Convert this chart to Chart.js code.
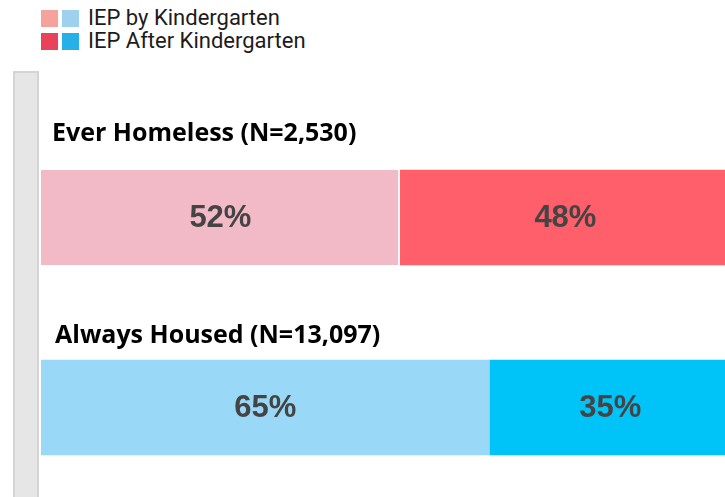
<!DOCTYPE html>
<html>
<head>
<meta charset="utf-8">
<script src="https://cdn.jsdelivr.net/npm/chart.js@4/dist/chart.umd.min.js"></script>
<style>
  html, body { margin: 0; padding: 0; background: #fff; overflow: hidden; width: 725px; height: 497px; }
  #wrap { position: relative; width: 735px; height: 510px; }
  #rail { position: absolute; left: 13px; top: 71px; width: 22px; height: 440px; background: #e6e6e6; border: 2px solid #d4d4d4; box-sizing: content-box; }
  .legend { position: absolute; left: 41px; height: 18px; font-family: Roboto, "Liberation Sans", sans-serif; font-size: 22px; color: #1c1c1c; display: flex; align-items: center; }
  .legend .sw { width: 17px; height: 17px; display: inline-block; margin-right: 4px; }
  .legend .txt { margin-left: 5px; line-height: 18px; }
  #chart { position: absolute; left: 0; top: 0; }
</style>
</head>
<body>
<div id="wrap">
  <div id="rail"></div>
  <div class="legend" style="top:9px"><span class="sw" style="background:#f5a29d"></span><span class="sw" style="background:#9ed0ef"></span><span class="txt">IEP by Kindergarten</span></div>
  <div class="legend" style="top:32px"><span class="sw" style="background:#e9435b"></span><span class="sw" style="background:#27b0e8"></span><span class="txt">IEP After Kindergarten</span></div>
  <canvas id="chart" width="735" height="510"></canvas>
</div>
<script>
// Groups and their share of IEP timing (percent)
const categories = ['Ever Homeless (N=2,530)', 'Always Housed (N=13,097)'];
const iepByK = [52, 65];
const iepAfterK = [48, 35];

const byKColors = ['#f2b9c6', '#99d8f6'];
const afterKColors = ['#ff5f6b', '#00c4f7'];

// Group titles sit above each bar
const titleGap = [29, 17];
const titleX = [52, 55];

const groupTitles = {
  id: 'groupTitles',
  afterDatasetsDraw(chart) {
    const { ctx } = chart;
    const meta = chart.getDatasetMeta(0);
    ctx.save();
    ctx.font = 'bold 25px "Open Sans", "Liberation Sans", sans-serif';
    ctx.fillStyle = '#000';
    ctx.textBaseline = 'alphabetic';
    ctx.textAlign = 'left';
    meta.data.forEach((bar, i) => {
      const top = bar.y - bar.height / 2;
      ctx.fillText(categories[i], titleX[i], top - titleGap[i]);
    });
    ctx.restore();
  }
};

const valueLabels = {
  id: 'valueLabels',
  afterDatasetsDraw(chart) {
    const { ctx } = chart;
    ctx.save();
    ctx.font = 'bold 31px "Liberation Sans", Arial, sans-serif';
    ctx.fillStyle = '#444';
    ctx.textAlign = 'center';
    ctx.textBaseline = 'middle';
    chart.data.datasets.forEach((ds, di) => {
      chart.getDatasetMeta(di).data.forEach((bar, i) => {
        const cx = (bar.base + bar.x) / 2;
        ctx.fillText(ds.data[i] + '%', cx, bar.y + 1);
      });
    });
    ctx.restore();
  }
};

new Chart(document.getElementById('chart'), {
  type: 'bar',
  data: {
    labels: categories,
    datasets: [
      {
        label: 'IEP by Kindergarten',
        data: iepByK,
        backgroundColor: byKColors,
        borderColor: '#ffffff',
        borderWidth: (c) => c.dataIndex === 0 ? { right: 2, left: 0, top: 0, bottom: 0 } : 0,
        borderSkipped: false,
        barThickness: 95
      },
      {
        label: 'IEP After Kindergarten',
        data: iepAfterK,
        backgroundColor: afterKColors,
        borderWidth: 0,
        barThickness: 95
      }
    ]
  },
  options: {
    indexAxis: 'y',
    responsive: false,
    animation: false,
    layout: { padding: { left: 41, right: 4, top: 122.5, bottom: 7.5 } },
    scales: {
      x: { stacked: true, min: 0, max: 100, display: false },
      y: { stacked: true, display: false, offset: true }
    },
    plugins: {
      legend: { display: false },
      tooltip: { enabled: false }
    }
  },
  plugins: [groupTitles, valueLabels]
});
</script>
</body>
</html>
